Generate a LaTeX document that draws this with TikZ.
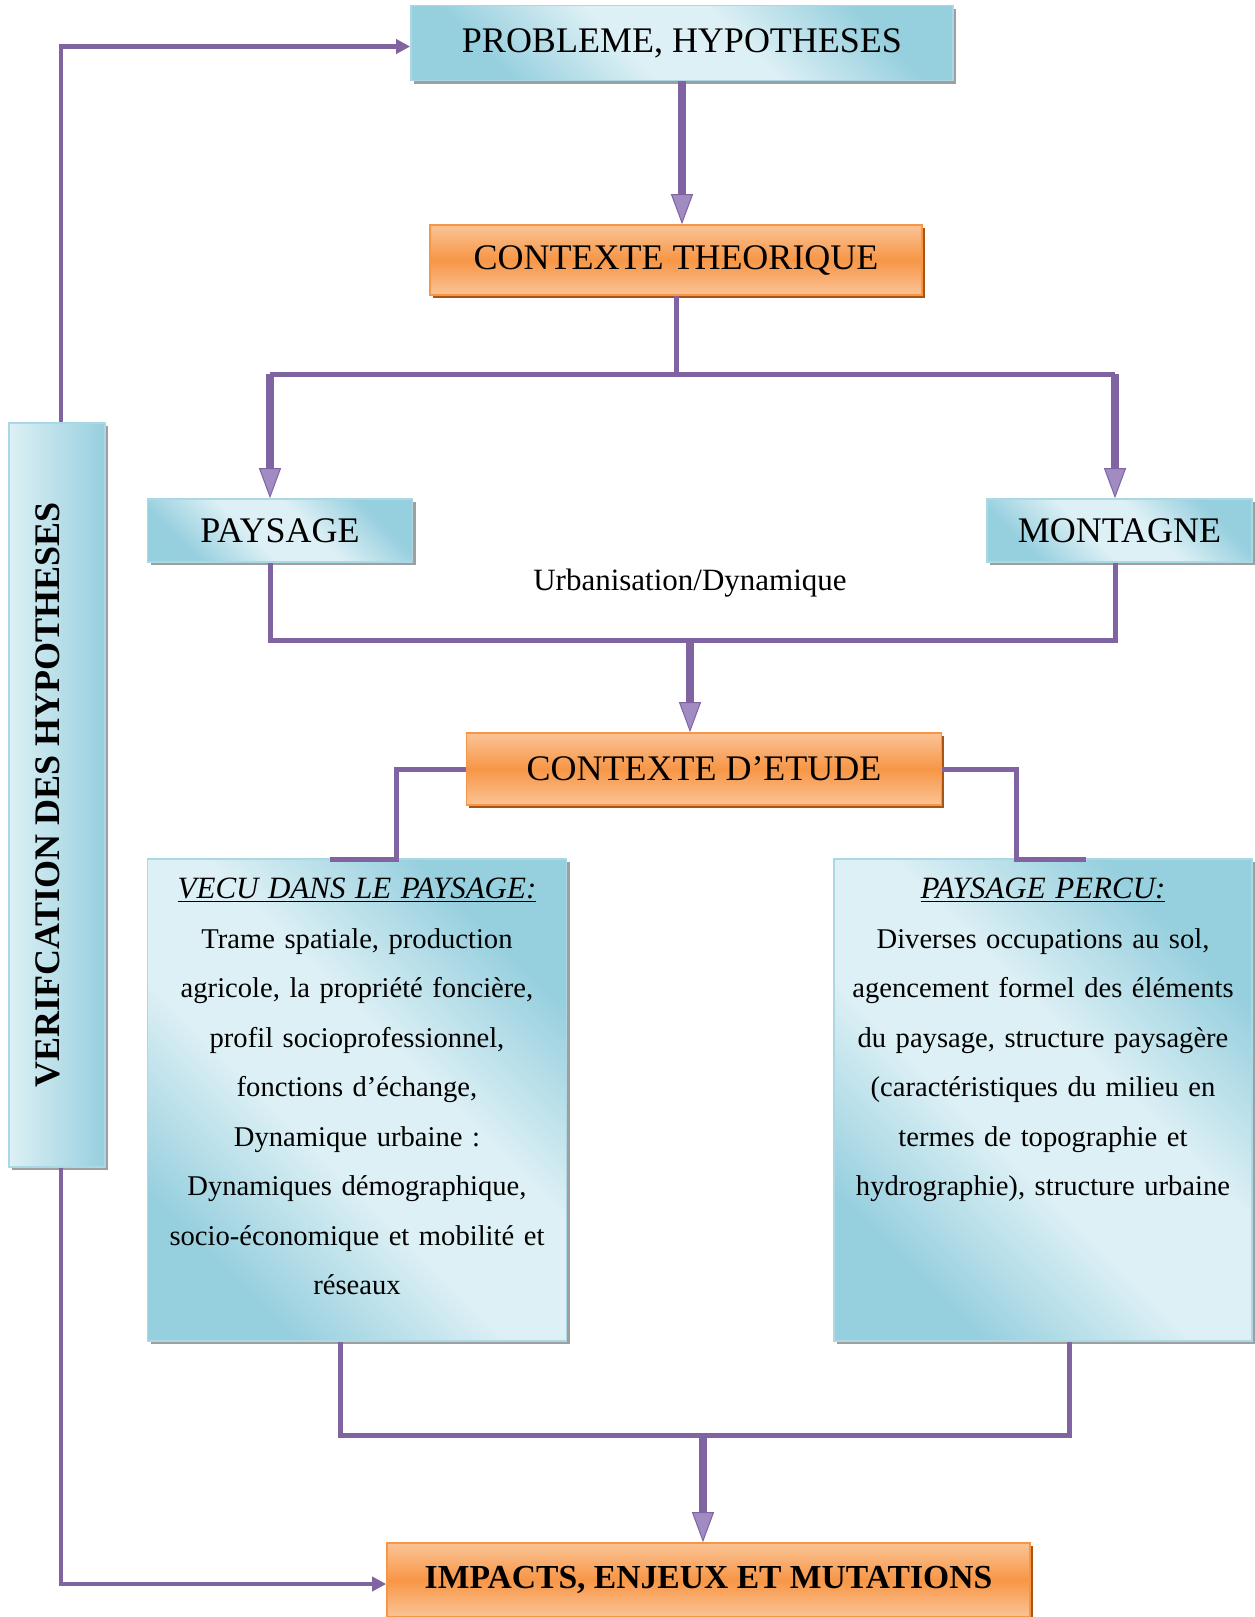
\documentclass[tikz,border=0pt]{standalone}
\usepackage{fontspec}
\setmainfont{Liberation Serif}
\usepackage{graphicx}
\usetikzlibrary{arrows.meta,positioning,shadows}

\definecolor{lila}{RGB}{128,100,162}
\definecolor{lilaL}{RGB}{160,139,194}
\definecolor{bleuC}{RGB}{221,240,245}
\definecolor{bleuF}{RGB}{150,207,222}
\definecolor{bleuB}{RGB}{170,216,229}
\definecolor{orM}{RGB}{247,150,70}
\definecolor{orC}{RGB}{250,192,144}
\definecolor{orS}{RGB}{170,85,20}
\pgfdeclarehorizontalshading{bleudiag}{100bp}{color(0bp)=(bleuF); color(26bp)=(bleuF); color(43bp)=(bleuC); color(57bp)=(bleuC); color(74bp)=(bleuF); color(100bp)=(bleuF)}
\pgfdeclareverticalshading{orbande}{100bp}{color(0bp)=(orC); color(27bp)=(orC); color(50bp)=(orM); color(73bp)=(orC); color(100bp)=(orC)}

\begin{document}
\begin{tikzpicture}[x=0.5pt,y=-0.5pt,
	cadrebleu/.style={draw=bleuB,line width=0.8pt,shade,shading=bleudiag,shading angle=45,inner sep=0pt,
		drop shadow={shadow xshift=1.6pt,shadow yshift=-1.6pt,fill=gray!75,opacity=1}},
	cadreor/.style={draw=orM,line width=0.8pt,shade,shading=orbande,inner sep=0pt,
		drop shadow={shadow xshift=1.4pt,shadow yshift=-1.4pt,fill=orS,opacity=1}},
	titre/.style={font=\fontsize{18}{21.6}\selectfont},
	corps/.style={font=\fontsize{14.3}{24.75}\selectfont,text width=205pt,align=center,inner sep=0pt,text height=11pt},
	liaison/.style={draw=lila,line width=2.5pt},
	fleche/.style={draw=lila,line width=4pt,-{Triangle[width=11pt,length=15pt,line width=0.5pt,fill=lilaL]}},
	retour/.style={draw=lila,line width=2.2pt,-{Triangle[width=7pt,length=7pt]}}]
	\useasboundingbox (0,0) rectangle (1254,1617);

	% boites
	\node[cadrebleu,titre,minimum width=271pt,minimum height=37.5pt] (prob) at (682,43) {PROBLEME, HYPOTHESES};
	\node[cadreor,titre,minimum width=246pt,minimum height=35pt] (cth) at (676,260) {CONTEXTE THEORIQUE};
	\node[cadrebleu,titre,minimum width=132.5pt,minimum height=31.5pt] (pay) at (280,530.5) {PAYSAGE};
	\node[cadrebleu,titre,minimum width=132.5pt,minimum height=31.5pt] (mon) at (1119.5,530.5) {MONTAGNE};
	\node[font=\fontsize{15.5}{18}\selectfont] (urb) at (690,583) {Urbanisation/Dynamique};
	\node[cadreor,titre,minimum width=237.5pt,minimum height=36pt] (cet) at (704,769) {CONTEXTE D’ETUDE};
	\node[cadrebleu,minimum width=209.5pt,minimum height=241pt] (vecu) at (357,1100) {};
	\node[cadrebleu,minimum width=209pt,minimum height=241pt] (percu) at (1043,1100) {};
	\node[corps,below=9pt of vecu.north] (vecutxt) {{\fontsize{15.5}{24.75}\selectfont\itshape\underline{VECU DANS LE PAYSAGE:}}\\
		Trame spatiale, production\\
		agricole, la propriété foncière,\\
		profil socioprofessionnel,\\
		fonctions d’échange,\\
		Dynamique urbaine :\\
		Dynamiques démographique,\\
		socio-économique et mobilité et\\
		réseaux};
	\node[corps,below=9pt of percu.north] (percutxt) {{\fontsize{15.5}{24.75}\selectfont\itshape\underline{PAYSAGE PERCU:}}\\
		Diverses occupations au sol,\\
		agencement formel des éléments\\
		du paysage, structure paysagère\\
		(caractéristiques du milieu en\\
		termes de topographie et\\
		hydrographie), structure urbaine};
	\node[cadreor,minimum width=321.5pt,minimum height=37pt,font=\bfseries\fontsize{16.8}{20}\selectfont] (imp) at (708.5,1580) {IMPACTS, ENJEUX ET MUTATIONS};
	\node[draw=bleuB,line width=0.8pt,left color=bleuC,right color=bleuF,inner sep=0pt,
		drop shadow={shadow xshift=1.6pt,shadow yshift=-1.6pt,fill=gray!75,opacity=1},
		minimum width=48pt,minimum height=372pt,font=\bfseries\fontsize{18}{21.6}\selectfont] (verif) at (57,795)
		{\rotatebox{90}{VERIFCATION DES HYPOTHESES}\kern9pt};

	% points de passage
	\coordinate (pg) at (270,374);
	\coordinate (pd) at (1115,374);
	\coordinate (jg) at (270,640);
	\coordinate (jd) at (1115,640);
	\coordinate (jm) at (690,640);
	\coordinate (eg) at (396,859);
	\coordinate (egb) at (330,859);
	\coordinate (ed) at (1016,859);
	\coordinate (edb) at (1086,859);
	\coordinate (bg) at (340,1435.5);
	\coordinate (bd) at (1069.5,1435.5);
	\coordinate (bm) at (703,1435.5);
	\coordinate (rh) at (61,46.5);
	\coordinate (rb) at (61,1584);

	% liaisons
	\draw[fleche] (prob.south) -- (prob.south |- cth.north);
	\draw[liaison] (cth.south) -- (cth.south |- pg);
	\draw[liaison] (pg) -- (pd);
	\draw[fleche] (pg) -- (pg |- pay.north);
	\draw[fleche] (pd) -- (pd |- mon.north);
	\draw[liaison] (jg |- pay.south) -- (jg) -- (jd) -- (jd |- mon.south);
	\draw[fleche] (jm) -- (jm |- cet.north);
	\draw[liaison] (cet.west) -| (eg) -- (egb);
	\draw[liaison] (cet.east) -| (ed) -- (edb);
	\draw[liaison] (bg |- vecu.south) -- (bg) -- (bd) -- (bd |- percu.south);
	\draw[fleche] (bm) -- (bm |- imp.north);
	\draw[retour] (verif.north -| rh) -- (rh) -- (rh -| prob.west);
	\draw[retour] (verif.south -| rb) -- (rb) -- (rb -| imp.west);
\end{tikzpicture}
\end{document}
